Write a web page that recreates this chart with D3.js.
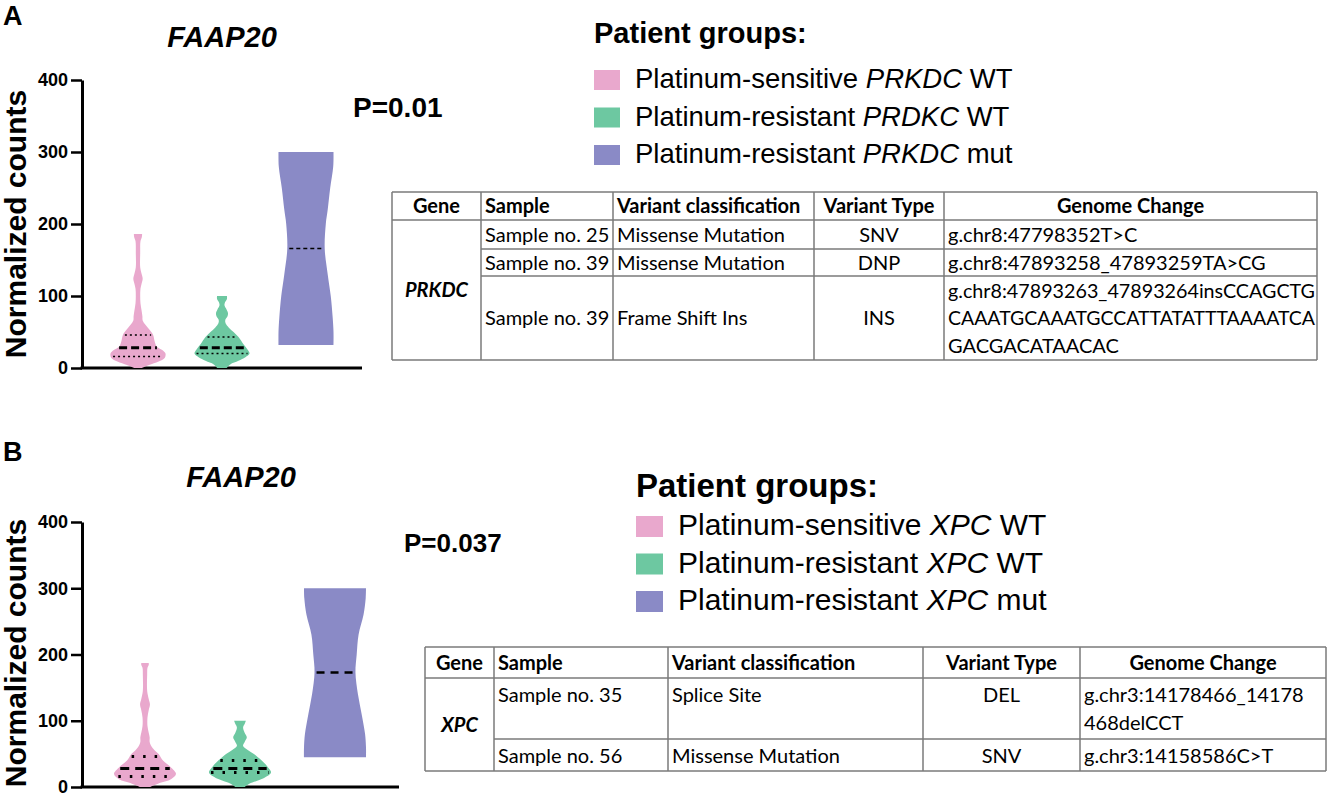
<!DOCTYPE html>
<html>
<head>
<meta charset="utf-8">
<script src="https://cdn.jsdelivr.net/npm/d3@7"></script>
<style>
  body { margin: 0; background: #fff; }
  svg { display: block; }
  .sans { font-family: "Liberation Sans", Arial, sans-serif; }
  .cell { font-family: Lato, "Open Sans", sans-serif; font-size: 20px; fill: #000; }
</style>
</head>
<body>
<script>

/************************************************/
/* Data                     */
/************************************************/

const yTicks = [0, 100, 200, 300, 400];
const groupColors = ["#e9a8cd", "#6dc8a1", "#8a8ac6"];

const legendPrefix = ["Platinum-sensitive ", "Platinum-resistant ", "Platinum-resistant "];
const legendGeneA = ["PRKDC", "PRDKC", "PRKDC"];
const legendGeneB = ["XPC", "XPC", "XPC"];
const legendSuffix = [" WT", " WT", " mut"];

// violin outlines: [normalized count, relative half width]
const pinkA = [[0,0.15],[4,0.4],[9,0.75],[14,0.97],[20,1.0],[25,0.88],[30,0.68],[38,0.6],[46,0.55],[53,0.42],[60,0.27],[66,0.17],[72,0.16],[80,0.13],[90,0.09],[100,0.08],[110,0.09],[117,0.13],[124,0.17],[131,0.13],[140,0.08],[160,0.08],[176,0.09],[182,0.14],[186,0.15]];
const greenA = [[0,0.17],[5,0.3],[10,0.6],[15,0.85],[20,1.0],[26,0.92],[33,0.78],[43,0.6],[50,0.42],[56,0.25],[62,0.13],[67,0.12],[72,0.2],[76,0.22],[81,0.17],[87,0.09],[92,0.12],[96,0.18],[100,0.18]];
const purpleA = [[32,1.0],[50,1.0],[70,0.97],[100,0.9],[130,0.79],[166,0.68],[200,0.72],[220,0.79],[250,0.88],[280,0.99],[300,1.0]];

const pinkB = [[0,0.16],[5,0.42],[12,0.85],[20,1.0],[30,0.83],[40,0.58],[50,0.44],[56,0.3],[62,0.2],[68,0.15],[75,0.15],[82,0.12],[92,0.08],[105,0.08],[116,0.12],[125,0.16],[133,0.12],[145,0.07],[170,0.07],[180,0.08],[184,0.12],[187,0.12]];
const greenB = [[0,0.15],[5,0.3],[12,0.7],[22,1.0],[30,0.9],[40,0.7],[50,0.45],[56,0.25],[62,0.1],[68,0.15],[75,0.22],[82,0.15],[90,0.1],[95,0.15],[100,0.19]];
const purpleB = [[45,1.0],[60,1.0],[80,0.97],[110,0.86],[140,0.74],[173,0.66],[200,0.7],[230,0.76],[260,0.92],[285,0.99],[300,1.0]];

// [lower quartile, median, upper quartile]
const quartA = [[16, 28, 46], [20, 28, 43], [null, 166, null]];
const quartB = [[16, 28, 46], [22, 28, 40], [null, 173, null]];

const tableHeaders = ["Gene", "Sample", "Variant classification", "Variant Type", "Genome Change"];

const prkdcSamples = ["Sample no. 25", "Sample no. 39", "Sample no. 39"];
const prkdcClasses = ["Missense Mutation", "Missense Mutation", "Frame Shift Ins"];
const prkdcTypes = ["SNV", "DNP", "INS"];
const prkdcChanges = [["g.chr8:47798352T>C"], ["g.chr8:47893258_47893259TA>CG"],
    ["g.chr8:47893263_47893264insCCAGCTG", "CAAATGCAAATGCCATTATATTTAAAATCA", "GACGACATAACAC"]];

const xpcSamples = ["Sample no. 35", "Sample no. 56"];
const xpcClasses = ["Splice Site", "Missense Mutation"];
const xpcTypes = ["DEL", "SNV"];
const xpcChanges = [["g.chr3:14178466_14178", "468delCCT"], ["g.chr3:14158586C>T"]];

/************************************************/
/* Create SVG image                             */
/************************************************/

const svg = d3.select("body").append("svg")
    .attr("width", 1328)
    .attr("height", 794);

/**
 * linear lookup of the violin half width at a value
 */

function widthAt(profile, v) {
    for (let i = 1; i < profile.length; i++) {
        if (v <= profile[i][0]) {
            const a = profile[i - 1], b = profile[i];
            return a[1] + (b[1] - a[1]) * (v - a[0]) / (b[0] - a[0]);
        }
    }
    return profile[profile.length - 1][1];
}

/**
 * one violin panel with axis, title and P value
 */

function drawPanel(p) {
    const g = svg.append("g");
    const y = d3.scaleLinear().domain([0, 400]).range([p.y0, p.y400]);

    g.append("text").attr("class", "sans")
        .attr("x", 3).attr("y", p.letterY)
        .style("font-size", "27px").style("font-weight", "bold")
        .text(p.letter);

    g.append("text").attr("class", "sans")
        .attr("x", p.titleX).attr("y", p.titleY)
        .attr("text-anchor", "middle")
        .style("font-size", p.titleSize + "px").style("font-weight", "bold").style("font-style", "italic")
        .text("FAAP20");

    g.append("text").attr("class", "sans")
        .attr("transform", "translate(26," + p.labelY + ") rotate(-90)")
        .attr("text-anchor", "middle")
        .style("font-size", "30px").style("font-weight", "bold")
        .text("Normalized counts");

    const axis = g.append("g")
        .attr("transform", "translate(" + p.axisX + ",0)")
        .call(d3.axisLeft(y).tickValues(yTicks).tickSize(11).tickSizeOuter(0).tickPadding(3));
    axis.select(".domain").attr("stroke-width", 3);
    axis.selectAll(".tick line").attr("stroke-width", 2.5);
    axis.selectAll(".tick text")
        .attr("class", "sans")
        .style("font-size", "18px").style("font-weight", "bold");

    g.append("line")
        .attr("x1", p.axisX - 1.5).attr("x2", p.xEnd)
        .attr("y1", y(0)).attr("y2", y(0))
        .attr("stroke", "#000").attr("stroke-width", 3);

    p.profiles.forEach((prof, i) => {
        const cx = p.centers[i];
        const area = d3.area()
            .curve(d3.curveCatmullRom.alpha(0.5))
            .y(d => y(d[0]))
            .x0(d => cx - p.halfW * d[1])
            .x1(d => cx + p.halfW * d[1]);
        g.append("path").datum(prof)
            .attr("d", area)
            .attr("fill", groupColors[i]);

        p.quart[i].forEach((v, k) => {
            if (v === null) return;
            const w = p.halfW * widthAt(prof, v) - 2;
            const st = k === 1 ? (i === 2 ? p.purpleMedian : p.median) : p.quartile;
            g.append("line")
                .attr("x1", cx - w).attr("x2", cx + w)
                .attr("y1", y(v)).attr("y2", y(v))
                .attr("stroke", "#000")
                .attr("stroke-width", st[0])
                .attr("stroke-dasharray", st[1]);
        });
    });

    g.append("text").attr("class", "sans")
        .attr("x", p.pX).attr("y", p.pY)
        .style("font-size", p.pSize + "px").style("font-weight", "bold")
        .text(p.pText);
}

/**
 * legend with a square per group and italic gene names
 */

function drawLegend(l, genes) {
    const g = svg.append("g");
    g.append("text").attr("class", "sans")
        .attr("x", l.x).attr("y", l.titleY)
        .style("font-size", l.titleSize + "px").style("font-weight", "bold")
        .text("Patient groups:");

    genes.forEach((gene, i) => {
        const by = l.firstY + i * l.step;
        g.append("rect")
            .attr("x", l.x).attr("y", by - l.sq[1] + 2)
            .attr("width", l.sq[0]).attr("height", l.sq[1])
            .attr("fill", groupColors[i]);
        const t = g.append("text").attr("class", "sans")
            .attr("x", l.textX).attr("y", by)
            .style("font-size", l.size + "px");
        t.append("tspan").text(legendPrefix[i]);
        t.append("tspan").style("font-style", "italic").text(gene);
        t.append("tspan").text(legendSuffix[i]);
    });
}

/**
 * mutation table drawn as svg lines and texts
 */

function fitText(t, avail) {
    const len = t.node().getComputedTextLength();
    if (len > avail) t.attr("textLength", avail).attr("lengthAdjust", "spacingAndGlyphs");
}

function drawTable(tb) {
    const g = svg.append("g");
    const xs = tb.xs, ys = tb.ys;
    const x0 = xs[0], x1 = xs[xs.length - 1], yTop = ys[0], yBot = ys[ys.length - 1];
    const fs = 20, lh = tb.lineH;
    const line = (ax, ay, bx, by) => g.append("line")
        .attr("x1", ax).attr("y1", ay).attr("x2", bx).attr("y2", by)
        .attr("stroke", "#7a7a7a").attr("stroke-width", 1.5);

    line(x0, yTop, x1, yTop);
    line(x0, yBot, x1, yBot);
    line(x0, ys[1], x1, ys[1]);
    for (let i = 2; i < ys.length - 1; i++) line(xs[1], ys[i], x1, ys[i]);
    xs.forEach(x => line(x, yTop, x, yBot));

    const put = (txt, col, baseline, align, bold, italic) => {
        const left = xs[col], right = xs[col + 1];
        const t = g.append("text").attr("class", "cell")
            .attr("x", align === "middle" ? (left + right) / 2 : left + 4)
            .attr("y", baseline)
            .attr("text-anchor", align === "middle" ? "middle" : "start")
            .style("font-weight", bold ? "bold" : "normal")
            .style("font-style", italic ? "italic" : "normal")
            .text(txt);
        fitText(t, right - left - 6);
    };

    tableHeaders.forEach((h, c) => {
        put(h, c, (ys[0] + ys[1]) / 2 + 0.36 * fs, tb.headAlign[c], true, false);
    });

    put(tb.gene, 0, (ys[1] + yBot) / 2 + 0.36 * fs, "middle", true, true);

    const cellAlign = ["start", "start", "middle", "start"];
    tb.samples.forEach((s, r) => {
        const top = ys[r + 1], bottom = ys[r + 2];
        const cols = [[s], [tb.classes[r]], [tb.types[r]], tb.changes[r]];
        cols.forEach((lines, c) => {
            const start = tb.valign === "top"
                ? top + 3
                : top + (bottom - top - lines.length * lh) / 2;
            lines.forEach((txt, k) => {
                put(txt, c + 1, start + lh * (k + 0.5) + 0.36 * fs, cellAlign[c], false, false);
            });
        });
    });
}

/************************************************/
/* Panel A                                      */
/************************************************/

drawPanel({
    letter: "A", letterY: 25,
    titleX: 222, titleY: 47, titleSize: 29,
    labelY: 224,
    y0: 368, y400: 80, axisX: 82, xEnd: 362,
    centers: [138, 222, 306], halfW: 27.5,
    profiles: [pinkA, greenA, purpleA], quart: quartA,
    median: [3, "8,4"], quartile: [1.5, "2,3"], purpleMedian: [1.5, "4,3"],
    pX: 353, pY: 117, pSize: 28, pText: "P=0.01"
});

drawLegend({
    x: 594, titleY: 43, titleSize: 29,
    textX: 635, firstY: 88, step: 37.5, size: 27.5, sq: [26, 20]
}, legendGeneA);

drawTable({
    xs: [392, 481, 613, 814, 944, 1317],
    ys: [192, 220, 249, 276, 360],
    lineH: 27.7, valign: "middle",
    headAlign: ["middle", "start", "start", "middle", "middle"],
    gene: "PRKDC",
    samples: prkdcSamples, classes: prkdcClasses, types: prkdcTypes, changes: prkdcChanges
});

/************************************************/
/* Panel B                                      */
/************************************************/

drawPanel({
    letter: "B", letterY: 461,
    titleX: 241, titleY: 487, titleSize: 29,
    labelY: 653,
    y0: 787, y400: 522, axisX: 82, xEnd: 399,
    centers: [145, 240, 335], halfW: 31,
    profiles: [pinkB, greenB, purpleB], quart: quartB,
    median: [3, "9,6"], quartile: [3, "2.5,9"], purpleMedian: [2.5, "8,6"],
    pX: 404, pY: 552, pSize: 26, pText: "P=0.037"
});

drawLegend({
    x: 636, titleY: 497, titleSize: 33,
    textX: 678, firstY: 535, step: 37.5, size: 30, sq: [27, 21]
}, legendGeneB);

drawTable({
    xs: [425, 494, 668, 923, 1080, 1326],
    ys: [647, 678, 739, 771],
    lineH: 28, valign: "top",
    headAlign: ["middle", "start", "start", "middle", "middle"],
    gene: "XPC",
    samples: xpcSamples, classes: xpcClasses, types: xpcTypes, changes: xpcChanges
});

</script>
</body>
</html>
